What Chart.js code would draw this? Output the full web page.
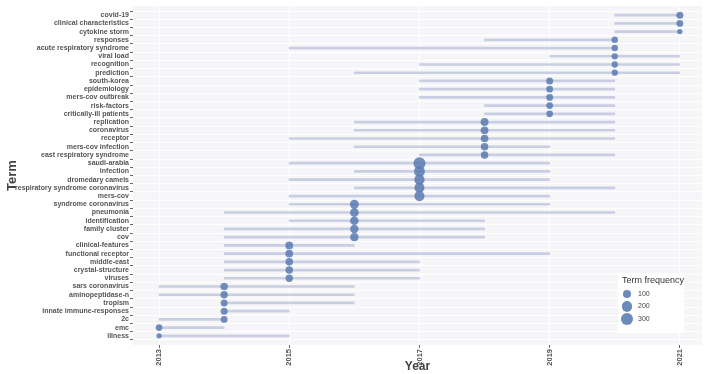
<!DOCTYPE html>
<html>
<head>
<meta charset="utf-8">
<script src="https://cdn.jsdelivr.net/npm/chart.js@4"></script>
<style>
  html, body { margin: 0; padding: 0; background: #ffffff; }
  #wrap { position: relative; width: 708px; height: 374px; }
  #legend { position: absolute; left: 618px; top: 273px; width: 66px; height: 60px; background: #ffffff;
    font-family: "Liberation Sans", Arial, sans-serif; color: #333; }
  #legend .title { position: absolute; left: 4px; top: 2px; font-size: 9px; white-space: nowrap; }
  #legend .dot { position: absolute; border-radius: 50%; background: rgba(88,122,178,0.88); }
  #legend .lab { position: absolute; left: 20px; font-size: 7px; color: #444; }
</style>
</head>
<body>
<div id="wrap">
  <canvas id="c" width="708" height="374"></canvas>
  <div id="legend"></div>
</div>
<script>
// ---- data ----
const terms = [
  "covid-19", "clinical characteristics", "cytokine storm", "responses",
  "acute respiratory syndrome", "viral load", "recognition", "prediction",
  "south-korea", "epidemiology", "mers-cov outbreak", "risk-factors",
  "critically-ill patients", "replication", "coronavirus", "receptor",
  "mers-cov infection", "east respiratory syndrome", "saudi-arabia", "infection",
  "dromedary camels", "respiratory syndrome coronavirus", "mers-cov", "syndrome coronavirus",
  "pneumonia", "identification", "family cluster", "cov",
  "clinical-features", "functional receptor", "middle-east", "crystal-structure",
  "viruses", "sars coronavirus", "aminopeptidase-n", "tropism",
  "innate immune-responses", "2c", "emc", "illness"
];
const startYear = [
  2020, 2020, 2020, 2018,
  2015, 2019, 2017, 2016,
  2017, 2017, 2017, 2018,
  2018, 2016, 2016, 2015,
  2016, 2017, 2015, 2016,
  2015, 2016, 2015, 2015,
  2014, 2015, 2014, 2014,
  2014, 2014, 2014, 2014,
  2014, 2013, 2013, 2014,
  2014, 2013, 2013, 2013
];
const medianYear = [
  2021, 2021, 2021, 2020,
  2020, 2020, 2020, 2020,
  2019, 2019, 2019, 2019,
  2019, 2018, 2018, 2018,
  2018, 2018, 2017, 2017,
  2017, 2017, 2017, 2016,
  2016, 2016, 2016, 2016,
  2015, 2015, 2015, 2015,
  2015, 2014, 2014, 2014,
  2014, 2014, 2013, 2013
];
const endYear = [
  2021, 2021, 2021, 2020,
  2020, 2021, 2021, 2021,
  2020, 2020, 2020, 2020,
  2020, 2020, 2020, 2020,
  2019, 2020, 2019, 2019,
  2019, 2020, 2019, 2019,
  2020, 2018, 2018, 2018,
  2016, 2019, 2017, 2017,
  2017, 2016, 2016, 2016,
  2015, 2014, 2014, 2015
];
const frequency = [
  60, 55, 20, 45,
  45, 40, 40, 38,
  60, 55, 55, 50,
  50, 90, 85, 80,
  75, 75, 300, 230,
  200, 180, 190, 130,
  125, 115, 110, 100,
  85, 85, 80, 75,
  70, 75, 70, 60,
  60, 55, 50, 20
];
const yearTicks = [2013, 2015, 2017, 2019, 2021];
const legendValues = [100, 200, 300];

// ---- styling helpers ----
const radiusOf = f => 1.5 + 4.5 * Math.sqrt(f / 300);
const DOT = 'rgba(88,122,178,0.85)';
const LINE = '#c9cee2';
const TXT = '#555555';
const FONT = '"Liberation Sans", Arial, sans-serif';

const panelBg = {
  id: 'panelBg',
  beforeDraw(chart) {
    const a = chart.chartArea, ctx = chart.ctx;
    ctx.save();
    ctx.fillStyle = '#f6f6f8';
    ctx.fillRect(a.left, a.top, a.right - a.left, a.bottom - a.top);
    ctx.restore();
  }
};

new Chart(document.getElementById('c'), {
  data: {
    datasets: [
      {
        type: 'bubble',
        data: terms.map((t, i) => ({ x: medianYear[i], y: i, r: radiusOf(frequency[i]) })),
        backgroundColor: DOT,
        borderColor: DOT,
        borderWidth: 0,
        order: 0
      },
      {
        type: 'bar',
        indexAxis: 'y',
        data: terms.map((t, i) => ({ x: [startYear[i], endYear[i]], y: i })),
        backgroundColor: LINE,
        borderWidth: 0,
        barThickness: 2,
        order: 1
      }
    ]
  },
  options: {
    responsive: false,
    animation: false,
    layout: { padding: { top: 3, right: 0, left: 0, bottom: 0 } },
    plugins: { legend: { display: false }, tooltip: { enabled: false } },
    scales: {
      x: {
        type: 'linear',
        min: 2012.6, max: 2021.34,
        afterBuildTicks: s => { s.ticks = yearTicks.map(v => ({ value: v })); },
        afterFit: s => { s.height = 29; },
        grid: { color: '#ffffff', lineWidth: 1, drawTicks: true, tickLength: 3, tickColor: '#666' },
        border: { display: false },
        ticks: {
          minRotation: 90, maxRotation: 90, padding: 1, autoSkip: false,
          color: TXT, font: { family: FONT, size: 7.5, weight: 'bold' },
          callback: v => String(v)
        },
        title: { display: true, text: 'Year', color: '#444', font: { family: FONT, size: 12, weight: 'bold' }, padding: { top: 0, bottom: 0 } }
      },
      y: {
        type: 'linear',
        reverse: true,
        min: -0.6, max: terms.length - 1 + 0.6,
        afterBuildTicks: s => { s.ticks = terms.map((t, i) => ({ value: i })); },
        afterFit: s => { s.width = 133; },
        grid: { color: '#ffffff', lineWidth: 1, drawTicks: true, tickLength: 3, tickColor: '#666' },
        border: { display: false },
        ticks: {
          autoSkip: false, padding: 1,
          color: TXT, font: { family: FONT, size: 7, weight: 'bold' },
          callback: v => terms[v]
        },
        title: { display: true, text: 'Term', color: '#444', font: { family: FONT, size: 13, weight: 'bold' }, padding: { top: 5, bottom: 0 } }
      }
    }
  },
  plugins: [panelBg]
});

// ---- size legend (HTML) ----
const lg = document.getElementById('legend');
const tt = document.createElement('div');
tt.className = 'title'; tt.textContent = 'Term frequency';
lg.appendChild(tt);
legendValues.forEach((v, k) => {
  const cy = 21 + k * 12.5;
  const r = radiusOf(v);
  const d = document.createElement('div');
  d.className = 'dot';
  d.style.width = (2 * r) + 'px'; d.style.height = (2 * r) + 'px';
  d.style.left = (9 - r) + 'px'; d.style.top = (cy - r) + 'px';
  lg.appendChild(d);
  const l = document.createElement('div');
  l.className = 'lab'; l.textContent = String(v);
  l.style.top = (cy - 4.5) + 'px';
  lg.appendChild(l);
});
</script>
</body>
</html>
